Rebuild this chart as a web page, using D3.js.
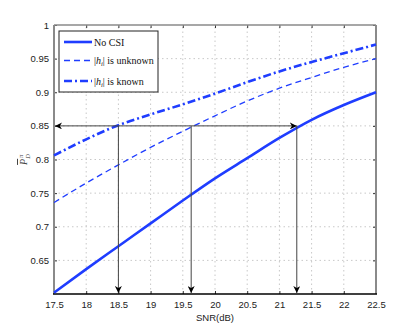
<!DOCTYPE html>
<html>
<head>
<meta charset="utf-8">
<script src="https://cdn.jsdelivr.net/npm/d3@7"></script>
<style>
  body { margin: 0; background: #fff; }
</style>
</head>
<body>
<div id="chart"></div>
<script>
// Données
const snr = [17.5, 18, 18.5, 19, 19.5, 20, 20.5, 21, 21.5, 22, 22.5];
const noCsi = [0.602, 0.637, 0.671, 0.705, 0.739, 0.772, 0.802, 0.832, 0.859, 0.881, 0.900];
const hUnknown = [0.736, 0.765, 0.792, 0.818, 0.842, 0.865, 0.887, 0.906, 0.922, 0.937, 0.950];
const hKnown = [0.806, 0.830, 0.851, 0.867, 0.882, 0.898, 0.915, 0.931, 0.945, 0.958, 0.971];
const xTicks = [17.5, 18, 18.5, 19, 19.5, 20, 20.5, 21, 21.5, 22, 22.5];
const yTicks = [0.65, 0.7, 0.75, 0.8, 0.85, 0.9, 0.95, 1];
const targetLevel = 0.85;
const crossSnr = [18.5, 19.63, 21.27];

const W = 415, H = 332;
const margin = { top: 25, right: 39, bottom: 38, left: 54 };
const blue = "#1f3dff";
const sans = "'Liberation Sans', Arial, sans-serif";
const serif = "'Liberation Serif', 'DejaVu Serif', serif";

const svg = d3.select("#chart").append("svg")
    .attr("width", W).attr("height", H);

const x = d3.scaleLinear().domain([17.5, 22.5]).range([margin.left, W - margin.right]);
const y = d3.scaleLinear().domain([0.6, 1]).range([H - margin.bottom, margin.top]);

// Grille en pointillés
svg.append("g").selectAll("line").data(xTicks.slice(1, -1)).enter().append("line")
    .attr("x1", d => x(d)).attr("x2", d => x(d))
    .attr("y1", y(0.6)).attr("y2", y(1))
    .attr("stroke", "#c8c8c8").attr("stroke-dasharray", "1.5 3");
svg.append("g").selectAll("line").data(yTicks.slice(0, -1)).enter().append("line")
    .attr("x1", x(17.5)).attr("x2", x(22.5))
    .attr("y1", d => y(d)).attr("y2", d => y(d))
    .attr("stroke", "#c8c8c8").attr("stroke-dasharray", "1.5 3");

// Axes (graduations vers l'intérieur)
const xAxis = svg.append("g")
    .attr("transform", `translate(0, ${y(0.6)})`)
    .call(d3.axisBottom(x).tickValues(xTicks).tickSize(-3).tickPadding(7).tickFormat(d3.format("")));
const xAxisTop = svg.append("g")
    .attr("transform", `translate(0, ${y(1)})`)
    .call(d3.axisTop(x).tickValues(xTicks).tickSize(-3).tickFormat(""));
const yAxis = svg.append("g")
    .attr("transform", `translate(${x(17.5)}, 0)`)
    .call(d3.axisLeft(y).tickValues(yTicks).tickSize(-3).tickPadding(5).tickFormat(d3.format("")));
const yAxisRight = svg.append("g")
    .attr("transform", `translate(${x(22.5)}, 0)`)
    .call(d3.axisRight(y).tickValues(yTicks).tickSize(-3).tickFormat(""));

[xAxis, xAxisTop, yAxis, yAxisRight].forEach(a => {
    a.select(".domain").remove();
    a.selectAll(".tick line").attr("stroke", "#333");
    a.selectAll("text").attr("font-size", 9.5).attr("fill", "#222")
        .attr("font-family", sans);
});

// Cadre
svg.append("line").attr("x1", x(17.5)).attr("x2", x(17.5)).attr("y1", y(0.6)).attr("y2", y(1))
    .attr("stroke", "#8a8a8a").attr("stroke-width", 2);
svg.append("line").attr("x1", x(22.5)).attr("x2", x(22.5)).attr("y1", y(0.6)).attr("y2", y(1))
    .attr("stroke", "#8a8a8a").attr("stroke-width", 2);
svg.append("line").attr("x1", x(17.5)).attr("x2", x(22.5)).attr("y1", y(1)).attr("y2", y(1))
    .attr("stroke", "#8a8a8a").attr("stroke-width", 1.5);
svg.append("line").attr("x1", x(17.5) - 1).attr("x2", x(22.5) + 1).attr("y1", y(0.6)).attr("y2", y(0.6))
    .attr("stroke", "#000").attr("stroke-width", 1.5);

// Courbes
const line = d3.line().curve(d3.curveMonotoneX).x((d, i) => x(snr[i])).y(d => y(d));
const series = [
    { values: noCsi, width: 2.6, dash: null },
    { values: hUnknown, width: 1.3, dash: "6 4" },
    { values: hKnown, width: 2.6, dash: "8 3 2 3" }
];
svg.append("g").selectAll("path").data(series).enter().append("path")
    .attr("d", d => line(d.values))
    .attr("fill", "none")
    .attr("stroke", blue)
    .attr("stroke-width", d => d.width)
    .attr("stroke-dasharray", d => d.dash);

// Flèches
const defs = svg.append("defs");
defs.append("marker").attr("id", "arrow")
    .attr("viewBox", "0 0 10 10").attr("refX", 10).attr("refY", 5)
    .attr("markerWidth", 7).attr("markerHeight", 7)
    .attr("markerUnits", "userSpaceOnUse")
    .attr("orient", "auto-start-reverse")
    .append("path").attr("d", "M0,0 L10,5 L0,10 L3,5 Z").attr("fill", "#000");

const arrows = svg.append("g").attr("stroke", "#444").attr("stroke-width", 1).attr("fill", "none");
arrows.append("line")
    .attr("x1", x(17.5) + 1).attr("x2", x(crossSnr[2]))
    .attr("y1", y(targetLevel)).attr("y2", y(targetLevel))
    .attr("marker-start", "url(#arrow)")
    .attr("marker-end", "url(#arrow)");
arrows.selectAll(".v").data(crossSnr).enter().append("line")
    .attr("x1", d => x(d)).attr("x2", d => x(d))
    .attr("y1", y(targetLevel)).attr("y2", y(0.6) - 1)
    .attr("marker-end", "url(#arrow)");

// Légende
const lg = svg.append("g").attr("transform", "translate(59, 31)");
lg.append("rect").attr("width", 99).attr("height", 61)
    .attr("fill", "#fff").attr("stroke", "#222").attr("stroke-width", 1);
const legendItems = [
    { label: "No CSI", s: series[0], ty: 11 },
    { label: "unknown", s: series[1], ty: 29.5 },
    { label: "known", s: series[2], ty: 50 }
];
legendItems.forEach(it => {
    lg.append("line").attr("x1", 5).attr("x2", 33).attr("y1", it.ty).attr("y2", it.ty)
        .attr("stroke", blue).attr("stroke-width", it.s.width)
        .attr("stroke-dasharray", it.s.dash);
    const t = lg.append("text").attr("x", 35).attr("y", it.ty + 3.5)
        .attr("font-family", serif)
        .attr("font-size", 10).attr("fill", "#111");
    if (it.label === "No CSI") {
        t.text("No CSI");
    } else {
        t.append("tspan").text("|");
        t.append("tspan").attr("font-style", "italic").text("h");
        t.append("tspan").attr("font-style", "italic").attr("font-size", 6.5).attr("dy", 2).text("i");
        t.append("tspan").attr("dy", -2).text("| is " + it.label);
    }
});

// Titres des axes
svg.append("text")
    .attr("x", x(20)).attr("y", 321)
    .attr("text-anchor", "middle")
    .attr("font-family", sans)
    .attr("font-size", 9.5).attr("fill", "#222")
    .text("SNR(dB)");

const yl = svg.append("text")
    .attr("transform", `translate(27, ${y(0.8)}) rotate(-90)`)
    .attr("text-anchor", "middle")
    .attr("font-family", serif)
    .attr("font-size", 10).attr("fill", "#444");
yl.append("tspan").attr("font-style", "italic").attr("text-decoration", "overline").text("P");
yl.append("tspan").attr("font-style", "italic").attr("font-size", 6.5).attr("dy", 2.5).text("D");
yl.append("tspan").attr("font-style", "italic").attr("font-size", 6.5).attr("dx", -4).attr("dy", -6.5).text("π");
</script>
</body>
</html>
